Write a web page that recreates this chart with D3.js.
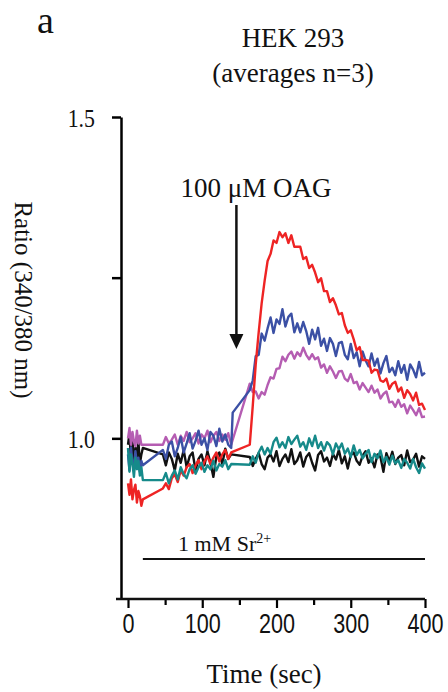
<!DOCTYPE html>
<html>
<head>
<meta charset="utf-8">
<script src="https://cdn.jsdelivr.net/npm/d3@7"></script>
<style>
  body { margin: 0; background: #fff; }
  svg { display: block; }
  .serif { font-family: "Liberation Serif", "Times New Roman", serif; fill: #111; }
  .sans { font-family: "Liberation Sans", Arial, sans-serif; fill: #111; }
</style>
</head>
<body>
<svg id="chart" width="448" height="692"></svg>
<script>
// time points (sec); recording has gaps at ~20-47 s and ~140-164 s
var times = [0, 2, 4, 6, 8, 10, 12, 14, 16, 18, 20,
  47, 51, 55, 59, 63, 67, 71, 75, 79, 83, 87, 91, 95, 99, 103, 107, 111, 115, 119, 123, 127, 131, 135, 139,
  141,
  164, 168, 172, 176, 180, 184, 188, 192, 196, 200, 204, 208, 212, 216, 220, 224, 228, 232, 236, 240,
  244, 248, 252, 256, 260, 264, 268, 272, 276, 280, 284, 288, 292, 296, 300, 304, 308, 312, 316, 320,
  324, 328, 332, 336, 340, 344, 348, 352, 356, 360, 364, 368, 372, 376, 380, 384, 388, 392, 396, 400];

var redVals = [0.93, 0.912, 0.936, 0.905, 0.92, 0.928, 0.9, 0.918, 0.91, 0.895, 0.905,
  0.922, 0.93, 0.921, 0.938, 0.944, 0.932, 0.95, 0.942, 0.955, 0.96, 0.946, 0.958, 0.966, 0.952, 0.964, 0.972, 0.96, 0.97, 0.978, 0.964, 0.975, 0.982, 0.968, 0.978,
  null,
  0.99, 1.05, 1.115, 1.165, 1.21, 1.245, 1.276, 1.287, 1.308, 1.304, 1.321, 1.313, 1.319, 1.304, 1.316, 1.298, 1.298, 1.298, 1.279, 1.282,
  1.265, 1.27, 1.258, 1.243, 1.249, 1.229, 1.229, 1.212, 1.218, 1.207, 1.193, 1.195, 1.176, 1.164, 1.168, 1.154, 1.137, 1.142, 1.122, 1.122,
  1.121, 1.102, 1.107, 1.106, 1.09, 1.088, 1.093, 1.077, 1.085, 1.088, 1.073, 1.079, 1.063, 1.075, 1.069, 1.059, 1.071, 1.052, 1.054, 1.044];

var blueVals = [0.975, 0.95, 0.986, 0.962, 0.955, 0.98, 0.96, 0.97, 0.948, 0.965, 0.958,
  0.982, 0.968, 0.99, 0.995, 0.972, 0.985, 1.002, 0.978, 0.992, 1.008, 0.984, 0.996, 1.012, 0.99, 1.0, 0.982, 1.01, 1.004, 0.988, 1.015, 0.995, 1.006, 0.99, 0.985,
  1.04,
  1.075, 1.09, 1.128, 1.13, 1.163, 1.152, 1.171, 1.188, 1.164, 1.185, 1.178, 1.201, 1.174, 1.189, 1.194, 1.165, 1.179, 1.165, 1.181, 1.167,
  1.147, 1.169, 1.154, 1.172, 1.144, 1.155, 1.136, 1.156, 1.147, 1.128, 1.148, 1.15, 1.13, 1.123, 1.147, 1.125, 1.134, 1.112, 1.135, 1.121,
  1.112, 1.132, 1.113, 1.124, 1.101, 1.117, 1.128, 1.103, 1.11, 1.098, 1.12, 1.102, 1.114, 1.091, 1.115, 1.107, 1.095, 1.119, 1.098, 1.102];

var magentaVals = [1.0, 1.016, 0.99, 1.01, 0.995, 0.988, 1.012, 0.992, 1.004, 0.99, 0.99,
  0.99, 1.002, 0.992, 0.998, 1.006, 0.99, 1.004, 0.996, 1.01, 0.994, 1.0, 1.008, 0.992, 1.006, 1.0, 1.012, 0.994, 1.004, 1.01, 0.996, 1.006, 0.998, 1.008, 0.99,
  null,
  1.085, 1.072, 1.073, 1.062, 1.072, 1.068, 1.083, 1.095, 1.093, 1.108, 1.109, 1.127, 1.12, 1.13, 1.135, 1.124, 1.134, 1.128, 1.141, 1.13,
  1.123, 1.131, 1.123, 1.126, 1.11, 1.115, 1.102, 1.112, 1.104, 1.094, 1.104, 1.105, 1.093, 1.089, 1.1, 1.086, 1.088, 1.076, 1.086, 1.079,
  1.072, 1.082, 1.071, 1.076, 1.062, 1.069, 1.073, 1.056, 1.057, 1.049, 1.06, 1.049, 1.053, 1.039, 1.051, 1.044, 1.036, 1.047, 1.033, 1.034];

var blackVals = [0.99, 1.008, 0.965, 0.998, 0.955, 0.985, 0.97, 0.995, 0.96, 0.975, 0.985,
  0.975, 0.958, 0.978, 0.968, 0.95, 0.976, 0.962, 0.982, 0.955, 0.972, 0.978, 0.95, 0.968, 0.975, 0.958, 0.98, 0.962, 0.94, 0.972, 0.978, 0.96, 0.984, 0.968, 0.975,
  null,
  0.971, 0.957, 0.968, 0.977, 0.96, 0.952, 0.97, 0.975, 0.964, 0.98, 0.957, 0.968, 0.975, 0.963, 0.983, 0.96, 0.966, 0.978, 0.956, 0.971,
  0.977, 0.962, 0.95, 0.974, 0.98, 0.964, 0.97, 0.957, 0.976, 0.967, 0.982, 0.961, 0.972, 0.953, 0.974, 0.978, 0.965, 0.959, 0.973, 0.98,
  0.962, 0.969, 0.955, 0.975, 0.971, 0.948, 0.977, 0.964, 0.979, 0.96, 0.97, 0.974, 0.958, 0.981, 0.963, 0.967, 0.976, 0.956, 0.972, 0.968];

var tealVals = [0.985, 0.948, 0.975, 0.96, 0.94, 0.97, 0.952, 0.965, 0.942, 0.955, 0.935,
  0.935, 0.946, 0.93, 0.942, 0.95, 0.936, 0.955, 0.944, 0.938, 0.952, 0.958, 0.945, 0.955, 0.962, 0.948, 0.958, 0.952, 0.965, 0.95, 0.96, 0.956, 0.966, 0.952, 0.96,
  null,
  0.959, 0.972, 0.962, 0.978, 0.987, 0.975, 0.985, 0.976, 0.994, 1.001, 0.986, 0.994, 0.985, 1.002, 0.991, 0.998, 1.004, 0.987, 0.994, 0.982,
  1.0, 0.988, 1.004, 0.985, 0.994, 0.981, 0.994, 0.989, 0.975, 0.992, 0.983, 0.992, 0.976, 0.984, 0.971, 0.989, 0.974, 0.982, 0.969, 0.976,
  0.982, 0.963, 0.976, 0.969, 0.981, 0.963, 0.971, 0.959, 0.973, 0.961, 0.966, 0.954, 0.968, 0.962, 0.953, 0.968, 0.955, 0.946, 0.961, 0.953];

var seriesNames = ["black", "magenta", "blue", "red", "teal"];
var seriesColors = ["#111111", "#b55db2", "#3b50a5", "#ee2424", "#168a8a"];
var seriesValues = [blackVals, magentaVals, blueVals, redVals, tealVals];

var xTicks = [0, 100, 200, 300, 400];
var xMinorTicks = [50, 150, 250, 350];
var yTicks = [1.0, 1.25, 1.5];
var yTickLabels = { "1": "1.0", "1.5": "1.5" };

var titleLines = ["HEK 293", "(averages n=3)"];
var srBar = [20, 400];

(function() {
    var svg = d3.select("#chart");
    var axisX = 121; // y axis sits a little left of t=0

    var xScale = d3.scaleLinear().domain([0, 400]).range([128, 425]);
    var yScale = d3.scaleLinear().domain([0.75, 1.5]).range([599, 117]);

    // panel letter + title
    svg.append("text").attr("class", "serif")
        .attr("x", 37).attr("y", 33)
        .style("font-size", "38px")
        .text("a");

    svg.selectAll(".title").data(titleLines).enter()
        .append("text").attr("class", "serif title")
        .attr("x", 293).attr("y", (d, i) => 47 + i * 35)
        .attr("text-anchor", "middle")
        .style("font-size", "27px")
        .text(d => d);

    // traces
    var line = d3.line()
        .x(d => xScale(d.t))
        .y(d => yScale(d.v));

    seriesValues.forEach(function(vals, k) {
        var pts = times.map((t, i) => ({ t: t, v: vals[i] })).filter(d => d.v != null);
        svg.append("path")
            .datum(pts)
            .attr("fill", "none")
            .attr("stroke", seriesColors[k])
            .attr("stroke-width", 2.4)
            .attr("stroke-linejoin", "round")
            .attr("d", line);
    });

    // y axis
    var yAxis = svg.append("g")
        .attr("transform", `translate(${axisX},0)`)
        .call(d3.axisLeft(yScale).tickValues(yTicks).tickSize(9).tickSizeOuter(0).tickPadding(22)
            .tickFormat(d => yTickLabels[String(d)] || ""));
    yAxis.select(".domain").attr("stroke-width", 2.5);
    yAxis.selectAll(".tick line").attr("stroke-width", 2.5);
    yAxis.selectAll("text")
        .attr("class", "serif")
        .style("font-size", "26px")
        .attr("text-anchor", "end")
        .attr("dy", "0.35em")
        .attr("transform", "scale(0.84,1)");

    // x axis
    var xAxis = svg.append("g")
        .attr("transform", "translate(0,599)")
        .call(d3.axisBottom(xScale).tickValues(xTicks).tickSize(9).tickPadding(6).tickFormat(d3.format("d")));
    xAxis.select(".domain").remove();
    xAxis.selectAll(".tick line").attr("stroke-width", 2.2);
    xAxis.selectAll("text")
        .attr("class", "sans")
        .style("font-size", "27px")
        .attr("transform", "scale(0.8,1)");

    var xMinor = svg.append("g")
        .attr("transform", "translate(0,599)")
        .call(d3.axisBottom(xScale).tickValues(xMinorTicks).tickSize(6).tickFormat(""));
    xMinor.select(".domain").remove();
    xMinor.selectAll(".tick line").attr("stroke-width", 2.2);

    svg.append("line")
        .attr("x1", axisX - 5).attr("x2", xScale(400))
        .attr("y1", 599).attr("y2", 599)
        .attr("stroke", "#111").attr("stroke-width", 2.5);

    // axis titles
    svg.append("text").attr("class", "serif")
        .attr("x", 264).attr("y", 683)
        .attr("text-anchor", "middle")
        .style("font-size", "27px")
        .text("Time (sec)");

    svg.append("text").attr("class", "serif")
        .attr("transform", "translate(15,300) rotate(90)")
        .attr("text-anchor", "middle")
        .style("font-size", "25px")
        .text("Ratio (340/380 nm)");

    // OAG annotation with arrow
    svg.append("text").attr("class", "serif")
        .attr("x", 256).attr("y", 197)
        .attr("text-anchor", "middle")
        .style("font-size", "27px")
        .text("100 \u03bcM OAG");

    var arrowX = xScale(146);
    svg.append("line")
        .attr("x1", arrowX).attr("x2", arrowX)
        .attr("y1", 205).attr("y2", 338)
        .attr("stroke", "#111").attr("stroke-width", 2.5);
    svg.append("path")
        .attr("d", `M${arrowX - 7},334 L${arrowX + 7},334 L${arrowX},349 Z`)
        .attr("fill", "#111");

    // Sr2+ bar
    svg.append("line")
        .attr("x1", xScale(srBar[0])).attr("x2", xScale(srBar[1]))
        .attr("y1", 559).attr("y2", 559)
        .attr("stroke", "#111").attr("stroke-width", 2);

    var sr = svg.append("text").attr("class", "serif")
        .attr("x", 178).attr("y", 551)
        .style("font-size", "22px");
    sr.append("tspan").text("1 mM Sr");
    sr.append("tspan").attr("dy", "-8").style("font-size", "14px").text("2+");
})();
</script>
</body>
</html>
